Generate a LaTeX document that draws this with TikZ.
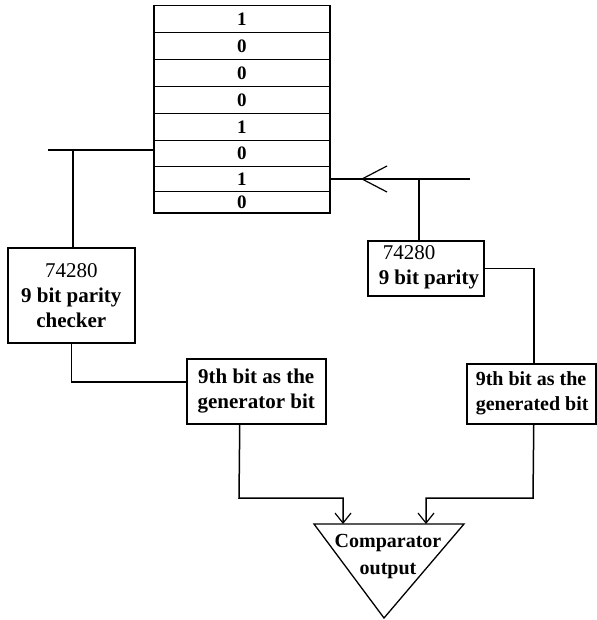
\documentclass[tikz,border=0pt]{standalone}
\usepackage{fontspec}
\setmainfont{Liberation Serif}
\usetikzlibrary{arrows.meta}
\begin{document}
\begin{tikzpicture}[x=1pt,y=-1pt,line width=1.5pt,
  bit/.style={draw,rectangle,minimum width=176pt,inner sep=0pt,anchor=north west,font=\fontsize{19}{19}\selectfont\bfseries},
  blockbox/.style={draw,rectangle,inner sep=0pt,anchor=north west,font=\fontsize{21}{25}\selectfont\bfseries,align=center},
  boxtext/.style={anchor=west,align=left,inner sep=0pt,font=\fontsize{21}{25}\selectfont\bfseries},
  tip/.style={-{Straight Barb[length=10pt,width=16pt,line width=1.2pt]}}]
\useasboundingbox (0,0) rectangle (596,620);
% register
\foreach \v/\t/\h [count=\i] in {1/5/27,0/32/27,0/59/27,0/86/27,1/113/27,0/140/26,1/166/25,0/191/21}
  \node[bit,minimum height=\h pt] (b\i) at (153,\t) {\v};
% blocks
\node[blockbox,minimum width=127pt,minimum height=95pt] (chk) at (7,247) {{\mdseries 74280}\\9 bit parity\\checker};
\node[blockbox,minimum width=116pt,minimum height=55pt] (par) at (367,240) {};
\node[boxtext] (partxt) at (378,267.5) {\hspace*{4pt}{\mdseries 74280}\\9 bit parity};
\node[blockbox,minimum width=139pt,minimum height=65pt] (gen) at (186,358) {9th bit as the\\generator bit};
\node[blockbox,minimum width=129pt,minimum height=60pt] (ged) at (466,363) {};
\node[boxtext,font=\fontsize{20}{25}\selectfont\bfseries] (gedtxt) at (475,393) {9th bit as the\\generated bit};
% comparator
\coordinate (ctl) at (314,524);
\coordinate (ctr) at (464,524);
\coordinate (cbot) at (384,618);
\draw[line width=1.3pt] (ctl) -- (ctr) -- (cbot) -- cycle;
\node[font=\fontsize{20}{27}\selectfont\bfseries,align=center] (cmp) at (388,557) {Comparator\\output};
\coordinate (ct1) at (343,524);
\coordinate (ct2) at (426,524);
% wires left
\coordinate (lend) at (48,150);
\draw (lend) -- (b6.west |- lend);
\coordinate (lt) at (73,150);
\draw (lt) -- (lt |- chk.north);
\draw (chk.south) |- ([yshift=9.5pt]gen.west);
% wires right
\coordinate (rend) at (470,179);
\draw (rend) -- (b7.east |- rend);
\draw[line width=1.2pt] (387,166) -- (362,179) -- (387,192);
\coordinate (rt) at (419,179);
\draw (rt) -- (rt |- par.north);
\draw (par.east) -| ([xshift=2.5pt]ged.north);
% to comparator
\coordinate (g1) at (239,498);
\coordinate (g2) at (533,498);
\draw[tip] ([xshift=-16.5pt]gen.south) -- (g1) -| (ct1);
\draw[tip] ([xshift=2.5pt]ged.south) -- (g2) -| (ct2);
\end{tikzpicture}
\end{document}
